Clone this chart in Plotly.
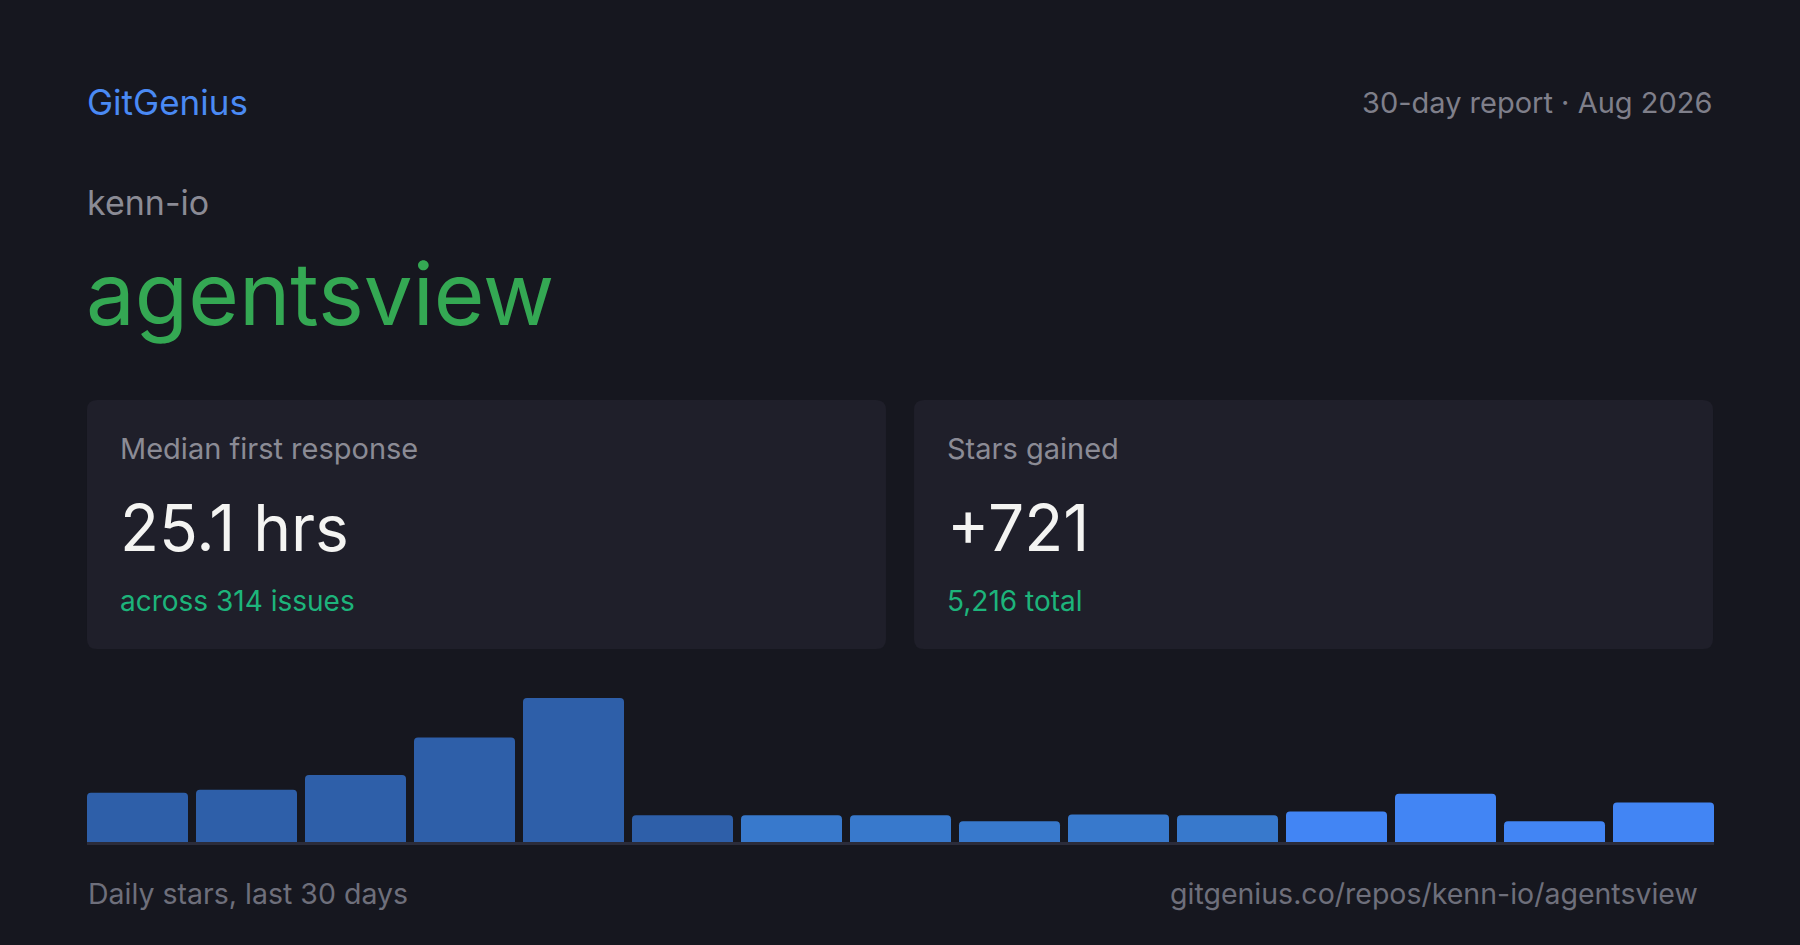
import plotly.graph_objects as go

# data
periods = ["Day 1-2", "Day 3-4", "Day 5-6", "Day 7-8", "Day 9-10", "Day 11-12", "Day 13-14",
           "Day 15-16", "Day 17-18", "Day 19-20", "Day 21-22", "Day 23-24", "Day 25-26",
           "Day 27-28", "Day 29-30"]
stars = [50, 53, 68, 106, 146, 27, 27, 27, 21, 28, 27, 31, 49, 21, 40]

brand = "GitGenius"
report_label = "30-day report · Aug 2026"
owner = "kenn-io"
repo = "agentsview"
card_titles = ["Median first response", "Stars gained"]
card_values = ["25.1 hrs", "+721"]
card_notes = ["across 314 issues", "5,216 total"]
footer_left = "Daily stars, last 30 days"
footer_right = "gitgenius.co/repos/kenn-io/agentsview"

W, H = 1800, 945
BG = "#16171f"
CARD = "#1f1f2a"
FONT = "Inter, Roboto, sans-serif"
GAP = 8 / 109

# bar shades: older days darker
bar_colors = ["#2e5fa9"] * 6 + ["#3879cc"] * 5 + ["#4285f4"] * 4


def px(x, y):
    return x / W, 1 - y / H


def rounded_rect(x0, y0, x1, y1, r):
    pts = [
        ("M", [(x0 + r, y0)]),
        ("L", [(x1 - r, y0)]),
        ("Q", [(x1, y0), (x1, y0 + r)]),
        ("L", [(x1, y1 - r)]),
        ("Q", [(x1, y1), (x1 - r, y1)]),
        ("L", [(x0 + r, y1)]),
        ("Q", [(x0, y1), (x0, y1 - r)]),
        ("L", [(x0, y0 + r)]),
        ("Q", [(x0, y0), (x0 + r, y0)]),
    ]
    out = ""
    for cmd, coords in pts:
        out += cmd + " " + " ".join("%.5f,%.5f" % px(cx, cy) for cx, cy in coords) + " "
    return out + "Z"


fig = go.Figure()
fig.add_trace(go.Bar(
    x=periods,
    y=stars,
    marker=dict(color=bar_colors, line=dict(width=0)),
    hovertemplate="%{x}: %{y} stars<extra></extra>",
))

shapes = []
for x0, x1 in [(87, 886), (914, 1713)]:
    shapes.append(dict(type="path", xref="paper", yref="paper",
                       path=rounded_rect(x0, 400, x1, 649, 10),
                       fillcolor=CARD, line=dict(width=0), layer="below"))

annotations = []


def text(t, x, y, size, color, anchor="left"):
    ax, ay = px(x, y)
    annotations.append(dict(text=t, x=ax, y=ay, xref="paper", yref="paper",
                            xanchor=anchor, yanchor="middle", showarrow=False,
                            font=dict(family=FONT, size=size, color=color)))


text(brand, 85, 102, 35, "#4a8af4")
text(report_label, 1714, 102, 29, "#7f7f8a", "right")
text(owner, 85, 203, 34, "#8b8b95")
text(repo, 84, 293, 87, "#34a853")

for i, cx in enumerate([118, 945]):
    text(card_titles[i], cx, 449, 29, "#8b8b95")
    text(card_values[i], cx, 527, 64, "#f4f4f2")
    text(card_notes[i], cx, 601, 28, "#1db47b")

text(footer_left, 86, 893, 28.5, "#6e6f7b")
text(footer_right, 1700, 893, 28.5, "#6e6f7b", "right")

fig.update_layout(
    width=W, height=H,
    margin=dict(l=0, r=0, t=0, b=0),
    paper_bgcolor=BG, plot_bgcolor="rgba(0,0,0,0)",
    showlegend=False,
    bargap=GAP,
    barcornerradius=4,
    shapes=shapes,
    annotations=annotations,
    font=dict(family=FONT),
)
fig.update_xaxes(domain=[87 / W, 1714 / W], range=[-0.5 + GAP / 2, len(periods) - 0.5 - GAP / 2],
                 showticklabels=False, showgrid=False,
                 zeroline=False, showline=True, linecolor="#2b2c3a", linewidth=3,
                 ticks="", fixedrange=True)
fig.update_yaxes(domain=[1 - 842 / H, 1 - 698 / H], range=[0, max(stars)],
                 visible=False, fixedrange=True)

fig.write_html("out.html", config={"displayModeBar": False})

# drop the default page margin so the card fills the window
with open("out.html", "r", encoding="utf-8") as f:
    html = f.read()
html = html.replace("<head>", "<head><style>html,body{margin:0;padding:0;background:%s;}</style>" % BG, 1)
with open("out.html", "w", encoding="utf-8") as f:
    f.write(html)
